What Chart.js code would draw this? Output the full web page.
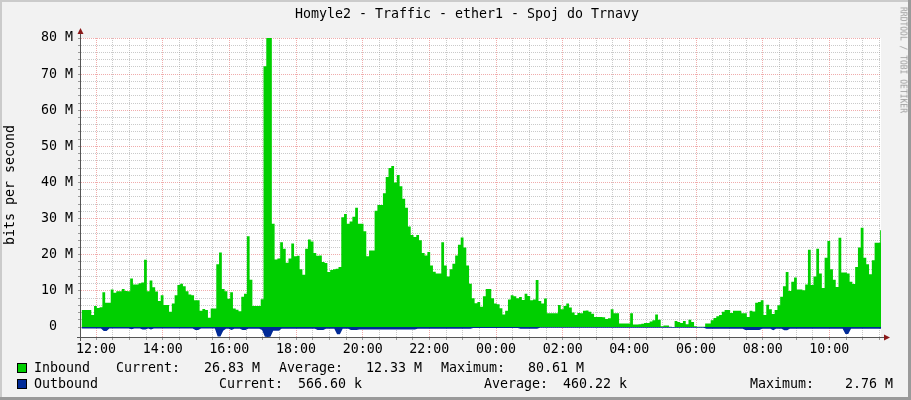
<!DOCTYPE html>
<html><head><meta charset="utf-8">
<script src="https://cdn.jsdelivr.net/npm/chart.js@4/dist/chart.umd.min.js"></script>
<style>
html,body{margin:0;padding:0;background:#F2F2F2;}
#wrap{position:relative;width:911px;height:400px;overflow:hidden;font-family:"DejaVu Sans Mono",monospace;color:#000;}
#wrap canvas{position:absolute;left:0;top:0;}
.t{position:absolute;white-space:pre;font-size:13.3px;line-height:16px;}
.box{position:absolute;width:8px;height:8px;border:1px solid #000;}
</style></head><body>
<div id="wrap">
<canvas id="c" width="911" height="400"></canvas>
<div class="t" style="left:467px;top:6px;transform:translateX(-50%);">Homyle2 - Traffic - ether1 - Spoj do Trnavy</div>
<div class="t" style="left:10px;top:185px;transform:translate(-50%,-50%) rotate(-90deg);">bits per second</div>
<div class="t" style="left:903px;top:60px;font-size:8px;line-height:9px;color:#9C9C9C;transform:translate(-50%,-50%) rotate(90deg);">RRDTOOL / TOBI OETIKER</div>
<div id="legend"></div>
</div>
<script>
// ---- data (Mbit/s), 5-minute samples starting 11:34 ----
const START_MIN = -26;   // minutes relative to 12:00
const STEP_MIN = 5;
const inbound = [
4.7,4.7,4.7,4.7,3.3,5.8,5.3,5.5,9.6,6.7,
6.7,10.4,9.5,9.9,9.9,10.5,10.0,9.9,13.4,11.8,
11.8,12.1,12.3,18.6,9.9,12.9,11.0,9.8,7.2,8.8,
6.1,6.1,4.2,6.5,8.8,11.6,12.0,11.3,9.9,9.0,
8.8,7.4,7.4,4.5,5.0,4.7,2.6,5.1,5.1,17.4,
20.6,10.5,9.9,7.8,9.6,5.1,4.8,4.4,8.4,9.2,
25.1,13.1,5.8,5.8,5.8,7.7,72.2,80.6,80.6,28.6,
18.7,19.0,23.5,21.7,17.8,19.0,23.1,19.6,19.7,16.0,
14.5,21.7,24.2,23.7,20.5,19.7,19.8,18.0,17.7,15.2,
15.8,16.0,16.1,16.6,30.4,31.3,28.6,29.2,30.5,33.0,
28.6,28.6,26.5,19.6,21.2,21.2,32.2,33.8,33.8,37.0,
41.5,44.0,44.6,40.0,42.1,39.0,35.5,33.0,27.8,25.5,
24.9,25.5,24.0,20.5,19.8,20.8,17.0,15.3,14.8,14.8,
23.5,17.0,14.0,16.0,17.5,19.8,22.8,24.8,22.0,17.0,
12.0,8.0,6.6,6.9,5.6,8.5,10.5,10.5,8.0,6.5,
6.3,5.2,3.5,4.5,7.6,8.8,8.5,8.0,8.3,7.5,
9.2,8.6,7.4,7.6,13.0,7.2,6.5,7.9,3.8,3.8,
3.8,3.8,6.1,4.9,5.8,6.5,5.4,4.0,3.3,3.9,
3.8,4.5,4.6,4.2,3.7,2.8,2.8,2.8,2.7,2.2,
2.4,4.9,3.8,3.8,1.0,1.0,1.0,1.0,3.8,0.7,
0.7,0.8,0.9,1.1,1.1,1.5,1.9,3.5,2.0,0.2,
0.4,0.4,0.1,0.0,1.7,1.4,1.1,1.7,0.8,2.0,
1.4,0.2,0.1,0.1,0.1,1.0,1.0,1.9,2.5,3.0,
3.3,4.2,4.7,4.7,3.9,4.5,4.5,4.5,3.8,3.8,
2.8,4.5,4.3,6.7,6.9,7.4,3.3,6.2,4.9,3.6,
4.7,6.0,8.4,11.3,15.2,10.0,12.5,13.7,10.4,10.4,
10.2,11.8,21.4,11.6,14.0,21.7,14.8,10.8,19.2,23.8,
16.0,13.1,11.1,24.7,15.1,15.1,14.8,12.5,11.9,16.6,
22.0,27.5,19.2,17.4,14.6,18.5,23.3,23.3,26.8
];
const outbound = [
0.4,0.4,0.4,0.4,0.4,0.4,0.4,0.4,1.1,1.1,
0.4,0.4,0.4,0.4,0.4,0.4,0.4,0.4,0.6,0.4,
0.4,0.4,0.7,0.7,0.4,0.7,0.4,0.4,0.4,0.4,
0.4,0.4,0.4,0.4,0.4,0.4,0.4,0.4,0.4,0.4,
0.4,0.8,0.8,0.4,0.4,0.4,0.4,0.4,0.4,2.6,
2.6,1.0,0.5,0.5,0.8,0.5,0.5,0.5,0.8,0.8,
0.5,0.5,0.5,0.5,0.5,0.8,2.7,2.76,2.7,1.0,
1.0,1.0,0.5,0.5,0.5,0.5,0.5,0.5,0.5,0.5,
0.5,0.5,0.5,0.5,0.5,0.8,0.8,0.8,0.5,0.5,
0.5,0.5,2.0,2.0,0.5,0.5,0.5,0.8,0.8,0.8,
0.7,0.7,0.7,0.7,0.7,0.7,0.7,0.7,0.7,0.7,
0.7,0.7,0.7,0.7,0.7,0.7,0.7,0.7,0.7,0.7,
0.7,0.5,0.5,0.5,0.5,0.5,0.5,0.5,0.5,0.5,
0.5,0.5,0.5,0.5,0.5,0.5,0.5,0.5,0.5,0.5,
0.5,0.3,0.3,0.3,0.3,0.3,0.3,0.3,0.3,0.3,
0.3,0.3,0.3,0.3,0.3,0.3,0.3,0.3,0.5,0.5,
0.5,0.5,0.5,0.5,0.5,0.2,0.2,0.2,0.2,0.2,
0.2,0.2,0.2,0.2,0.2,0.2,0.2,0.2,0.2,0.2,
0.2,0.2,0.2,0.2,0.2,0.2,0.2,0.2,0.2,0.2,
0.2,0.2,0.2,0.2,0.2,0.2,0.2,0.2,0.2,0.2,
0.2,0.2,0.2,0.2,0.2,0.2,0.2,0.2,0.2,0.2,
0.2,0.2,0.2,0.2,0.2,0.2,0.2,0.2,0.2,0.2,
0.2,0.2,0.2,0.2,0.2,0.5,0.5,0.5,0.5,0.5,
0.5,0.5,0.5,0.5,0.5,0.5,0.5,0.5,0.5,0.8,
0.8,0.8,0.8,0.8,0.8,0.5,0.5,0.5,0.5,0.9,
0.5,0.5,0.5,0.9,0.9,0.5,0.5,0.5,0.5,0.5,
0.5,0.5,0.5,0.5,0.5,0.5,0.5,0.5,0.5,0.5,
0.5,0.5,0.5,0.5,0.5,1.9,1.9,0.5,0.5,0.5,
0.5,0.5,0.5,0.5,0.5,0.5,0.5,0.5,0.5
];
const hourLabels = ['12:00','14:00','16:00','18:00','20:00','22:00','00:00','02:00','04:00','06:00','08:00','10:00'];
const yLabels = ['0  ','10 M','20 M','30 M','40 M','50 M','60 M','70 M','80 M'];
const seriesNames = ['Inbound','Outbound'];
const currentVals = ['26.83 M','566.60 k'];
const averageVals = ['12.33 M','460.22 k'];
const maximumVals = ['80.61 M','2.76 M'];
const seriesColors = ['#00CF00','#002A97'];

// ---- legend (HTML text) ----
const legendLayout = [
  {y:360, cur:116, curR:260, avg:279, avgR:422, max:441, maxR:584},
  {y:376, cur:219, curR:362, avg:484, avgR:627, max:750, maxR:893}
];
(function(){
  const lg = document.getElementById('legend');
  let h = '';
  seriesNames.forEach((n,i)=>{
    const L = legendLayout[i];
    h += `<div class="box" style="left:17px;top:${L.y+3}px;background:${seriesColors[i]}"></div>`;
    h += `<div class="t" style="left:34px;top:${L.y}px">${n}</div>`;
    h += `<div class="t" style="left:${L.cur}px;top:${L.y}px">Current:</div>`;
    h += `<div class="t" style="right:${911-L.curR}px;top:${L.y}px">${currentVals[i]}</div>`;
    h += `<div class="t" style="left:${L.avg}px;top:${L.y}px">Average:</div>`;
    h += `<div class="t" style="right:${911-L.avgR}px;top:${L.y}px">${averageVals[i]}</div>`;
    h += `<div class="t" style="left:${L.max}px;top:${L.y}px">Maximum:</div>`;
    h += `<div class="t" style="right:${911-L.maxR}px;top:${L.y}px">${maximumVals[i]}</div>`;
  });
  lg.innerHTML = h;
})();

const toPts = (arr, sign) => arr.map((v,i)=>({x: START_MIN + STEP_MIN*i, y: sign*v}));

const xTicks = []; for (let m=0; m<=1410; m+=30) xTicks.push(m);
const yTicks = []; for (let v=0; v<=80; v+=2) yTicks.push(v);

const MINOR = 'rgba(150,150,150,0.5)';
const MAJOR = 'rgba(225,90,90,0.5)';

const framePlugin = {
  id:'frame',
  beforeDraw(chart){
    const {ctx, chartArea:a, width:w, height:h} = chart;
    ctx.save();
    ctx.fillStyle='#F2F2F2'; ctx.fillRect(0,0,w,h);
    ctx.fillStyle='#CBCBCB'; ctx.fillRect(0,0,w,2); ctx.fillRect(0,0,2,h);
    ctx.fillStyle='#9A9A9A'; ctx.fillRect(w-3,0,3,h); ctx.fillRect(0,h-3,w,3);
    ctx.fillStyle='#FFFFFF'; ctx.fillRect(a.left,a.top,a.right-a.left,a.bottom-a.top);
    ctx.restore();
  },
  afterDatasetsDraw(chart){
    const {ctx, chartArea:a} = chart;
    ctx.save();
    ctx.strokeStyle='#555555'; ctx.lineWidth=1;
    ctx.beginPath();
    ctx.moveTo(a.left-0.5, a.top-5); ctx.lineTo(a.left-0.5, a.bottom+4);
    ctx.moveTo(a.left-4, a.bottom+0.5); ctx.lineTo(a.right+4, a.bottom+0.5);
    ctx.stroke();
    ctx.fillStyle='#8B1A1A';
    ctx.beginPath();
    ctx.moveTo(a.left-3.5, a.top-4); ctx.lineTo(a.left+2.5, a.top-4); ctx.lineTo(a.left-0.5, a.top-10); ctx.closePath(); ctx.fill();
    ctx.beginPath();
    ctx.moveTo(a.right+3, a.bottom-2.5); ctx.lineTo(a.right+3, a.bottom+3.5); ctx.lineTo(a.right+9, a.bottom+0.5); ctx.closePath(); ctx.fill();
    ctx.restore();
  }
};

const FONT = {family:'"DejaVu Sans Mono", monospace', size:13.3};

new Chart(document.getElementById('c'), {
  type:'line',
  data:{
    datasets:[
      {label:seriesNames[0], data:toPts(inbound,1), fill:'origin', backgroundColor:seriesColors[0],
       borderColor:'transparent', borderWidth:1, pointRadius:0, stepped:'middle', order:2},
      {label:seriesNames[1], data:toPts(outbound,-1), fill:'origin', backgroundColor:seriesColors[1],
       borderColor:'transparent', borderWidth:1, pointRadius:0, tension:0, order:1}
    ]
  },
  options:{
    responsive:false, animation:false, devicePixelRatio:1,
    layout:{padding:{left:0, top:38, right:30, bottom:43}},
    plugins:{legend:{display:false}, tooltip:{enabled:false}, title:{display:false}},
    scales:{
      x:{
        type:'linear', min:-27, max:1413, position:'bottom',
        afterFit(s){ s.height = 20; },
        afterBuildTicks(s){ s.ticks = xTicks.map(v=>({value:v})); },
        grid:{color:c=> (c.tick && c.tick.value%120===0) ? MAJOR : MINOR, lineWidth:1, drawTicks:true, tickLength:3, tickColor:'#999', tickBorderDash:[]},
        border:{display:false, dash:[1,1]},
        ticks:{autoSkip:false, maxRotation:0, minRotation:0, padding:2, color:'#000', font:FONT,
          callback:v=> v%120===0 ? hourLabels[v/120] : ''}
      },
      y:{
        type:'linear', min:-2.76, max:80, position:'left',
        afterFit(s){ s.width = 81; },
        afterBuildTicks(s){ s.ticks = yTicks.map(v=>({value:v})); },
        grid:{color:c=> (c.tick && c.tick.value%10===0) ? MAJOR : MINOR, lineWidth:1, drawTicks:true, tickLength:3, tickColor:'#999', tickBorderDash:[]},
        border:{display:false, dash:[1,1]},
        ticks:{autoSkip:false, padding:5, color:'#000', font:FONT,
          callback:v=> v%10===0 ? yLabels[v/10] : ''}
      }
    }
  },
  plugins:[framePlugin]
});
</script>
</body></html>
